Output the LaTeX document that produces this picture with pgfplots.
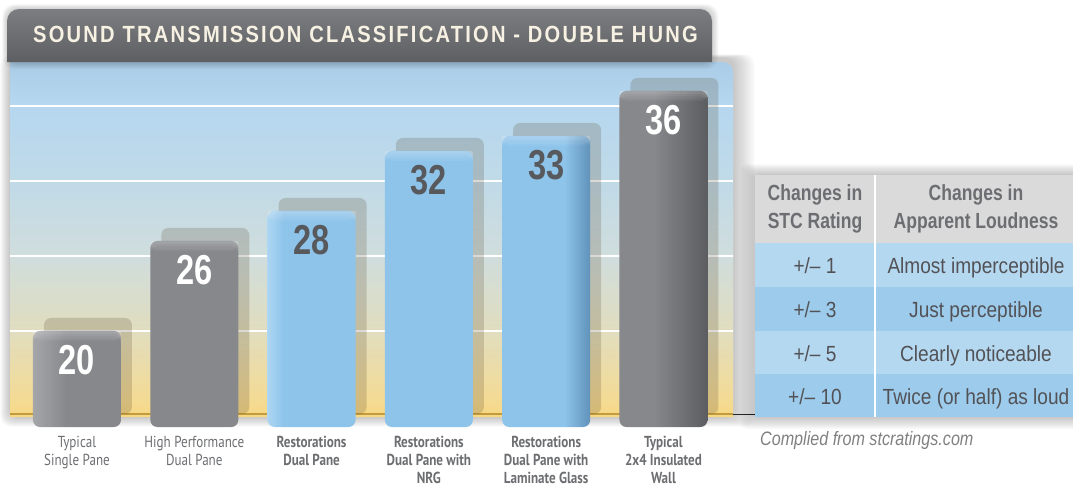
\documentclass[border=0pt]{standalone}
\usepackage{fontspec}
\setmainfont{Liberation Sans}
\newfontfamily\condfont[FakeStretch=0.8]{Liberation Sans}
\newfontfamily\titlefont[FakeStretch=0.86,LetterSpace=9.5]{Liberation Sans}
\newfontfamily\numfont[FakeStretch=0.78]{Liberation Sans}
\newfontfamily\bodyfont[FakeStretch=0.87]{Liberation Sans}
\newfontfamily\capfont[FakeStretch=0.83]{Liberation Sans}
\newfontfamily\labfont[FakeStretch=0.82]{PT Sans}
\usepackage{pgfplots}
\pgfplotsset{compat=1.18}

\definecolor{pY0}{RGB}{247,216,130}
\definecolor{pY05}{RGB}{244,219,148}
\definecolor{pY1}{RGB}{225,221,190}
\definecolor{pY2}{RGB}{208,221,220}
\definecolor{pY3}{RGB}{192,218,232}
\definecolor{pY4}{RGB}{181,215,239}
\definecolor{pY5}{RGB}{170,204,230}
\definecolor{g0}{RGB}{165,166,170}
\definecolor{g1}{RGB}{135,136,140}
\definecolor{g2}{RGB}{92,93,97}
\definecolor{b0}{RGB}{172,214,242}
\definecolor{b1}{RGB}{142,196,234}
\definecolor{b2}{RGB}{96,146,186}
\definecolor{shadowc}{RGB}{80,62,36}
\definecolor{titletop}{RGB}{124,125,128}
\definecolor{titlebot}{RGB}{94,95,98}
\definecolor{titletext}{RGB}{246,241,226}
\definecolor{headgray}{RGB}{218,218,219}
\definecolor{headtext}{RGB}{109,110,113}
\definecolor{rowA}{RGB}{181,216,241}
\definecolor{rowB}{RGB}{157,203,236}
\definecolor{bodytext}{RGB}{82,82,86}
\definecolor{capgray}{RGB}{128,128,130}
\definecolor{labgray}{RGB}{109,110,113}
\definecolor{numdark}{RGB}{88,89,92}
\definecolor{goldline}{RGB}{196,155,60}

\pgfdeclareverticalshading{panelshade}{100bp}{color(0bp)=(pY0); color(25bp)=(pY0); color(27.4bp)=(pY05); color(37bp)=(pY1); color(47.5bp)=(pY2); color(58.5bp)=(pY3); color(69bp)=(pY4); color(75bp)=(pY5); color(100bp)=(pY5)}
\pgfdeclarehorizontalshading{graybar}{100bp}{color(0bp)=(g0); color(25bp)=(g0); color(27.5bp)=(g1); color(71bp)=(g1); color(75bp)=(g2); color(100bp)=(g2)}
\pgfdeclarehorizontalshading{bluebar}{100bp}{color(0bp)=(b0); color(25bp)=(b0); color(27.5bp)=(b1); color(71bp)=(b1); color(75bp)=(b2); color(100bp)=(b2)}

% light bevel along the rounded top of each bar
\newcommand\bevelstrip[2]{%
  \begin{pgfscope}%
    \pgfsetfillcolor{white}%
    \pgfsetfillopacity{#2}%
    \pgfpathmoveto{\pgfpoint{-44bp}{-#1bp}}%
    \pgfpathlineto{\pgfpoint{-44bp}{-7bp}}%
    \pgfpatharc{180}{90}{7bp}%
    \pgfpathlineto{\pgfpoint{37bp}{0bp}}%
    \pgfpatharc{90}{0}{7bp}%
    \pgfpathlineto{\pgfpoint{44bp}{-#1bp}}%
    \pgfpathclose
    \pgfusepath{fill}%
  \end{pgfscope}%
}
\pgfdeclareplotmark{bevel}{%
  \bevelstrip{10}{0.05}\bevelstrip{8}{0.06}\bevelstrip{5.5}{0.07}\bevelstrip{3}{0.08}%
}

\pgfplotstableread{
x y
0 20
1 26
5 36
}\graydata
\pgfplotstableread{
x y
2 28
3 32
4 33
}\bluedata
\pgfplotstableread{
x y
0 20
1 26
2 28
3 32
4 33
5 36
}\alldata

\begin{document}
\begin{tikzpicture}
\useasboundingbox (0bp,-486bp) rectangle (1073bp,0bp);
\clip (0bp,-486bp) rectangle (1073bp,0bp);
\begin{scope}[x=1bp,y=-1bp]
% panel soft shadow
\foreach \i in {1,...,12} {
  \fill[black,opacity=0.018,rounded corners=10] ({10-\i*0.8},{58-\i*0.3}) rectangle ({733+\i*1.8},{417+\i*0.8});
}
% panel
\shade[shading=panelshade] (10,417) -- (10,62) -- (723,62) arc[start angle=270,end angle=360,radius=10] -- (733,417) -- cycle;
% baseline
\draw[goldline, line width=2bp] (10,413.5) -- (733,413.5);
\draw[black!85, line width=1bp] (733,414) -- (757,414);
% title bar shadow
\foreach \i in {1,...,8} {
  \fill[black,opacity=0.025,rounded corners=12] ({7-\i*0.6},{9-\i*0.6}) rectangle ({712+\i*0.8},{62+\i*0.9});
}
\shade[top color=titletop, bottom color=titlebot] (7,62) -- (7,21) arc[start angle=180,end angle=270,radius=12] -- (700,9) arc[start angle=270,end angle=360,radius=12] -- (712,62) -- cycle;
\node[anchor=base west, inner sep=0pt, text=titletext, font=\titlefont\bfseries\fontsize{23.5}{23.5}\selectfont] at (33,42) {SOUND TRANSMISSION CLASSIFICATION - DOUBLE HUNG};
\end{scope}

\begin{axis}[
  at={(10bp,-427bp)}, anchor=south west,
  scale only axis, width=723bp, height=365bp,
  xmin=-0.571, xmax=5.593, ymin=13.6, ymax=37.93,
  axis line style={draw=none}, tick style={draw=none},
  ytick={20,25,30,35}, yticklabels={}, ymajorgrids,
  grid style={white, line width=2.5bp},
  xtick={0,1,2,3,4,5},
  xticklabels={{Typical\\Single Pane},{High Performance\\Dual Pane},{\textbf{Restorations}\\\textbf{Dual Pane}},{\textbf{Restorations}\\\textbf{Dual Pane with}\\\textbf{NRG}},{\textbf{Restorations}\\\textbf{Dual Pane with}\\\textbf{Laminate Glass}},{\textbf{Typical}\\\textbf{2x4 Insulated}\\\textbf{Wall}}},
  xticklabel style={align=center, font=\labfont\fontsize{16}{18}\selectfont, text=labgray, inner sep=0pt, yshift=-5bp},
  ybar, bar width=88bp,
]
\addplot[bar shift=11bp, yshift=13bp, fill=shadowc, fill opacity=0.2, draw=none, rounded corners=7bp] table[x=x,y=y] {\alldata};
\addplot[bar shift=0bp, shade, shading=graybar, draw=none, rounded corners=7bp, mark=bevel,
  nodes near coords={\numfont\bfseries\fontsize{42}{42}\selectfont\pgfmathprintnumber[assume math mode=true]{\pgfplotspointmeta}},
  nodes near coords style={text=white, text opacity=1, fill opacity=1, opacity=1, anchor=north, inner sep=0pt, yshift=-14bp}] table[x=x,y=y] {\graydata};
\addplot[bar shift=0bp, shade, shading=bluebar, draw=none, rounded corners=7bp, mark=bevel,
  nodes near coords={\numfont\bfseries\fontsize{42}{42}\selectfont\pgfmathprintnumber[assume math mode=true]{\pgfplotspointmeta}},
  nodes near coords style={text=numdark, text opacity=1, fill opacity=1, opacity=1, anchor=north, inner sep=0pt, yshift=-14bp}] table[x=x,y=y] {\bluedata};
\end{axis}

\begin{scope}[x=1bp,y=-1bp]
% table shadow
\foreach \i in {1,...,12} {
  \fill[black,opacity=0.018,rounded corners=6] ({755-\i*1.2},{175-\i*0.9}) rectangle ({1080},{417+\i*1.0});
}
\fill[headgray] (755,175) rectangle (1073,243);
\fill[rowA] (755,243) rectangle (1073,287);
\fill[rowB] (755,287) rectangle (1073,331);
\fill[rowA] (755,331) rectangle (1073,374);
\fill[rowB] (755,374) rectangle (1073,417);
\draw[white, line width=2.5bp] (875,175) -- (875,417);
\node[align=center, text=headtext, font=\condfont\bfseries\fontsize{22}{28}\selectfont] at (815,209) {Changes in\\STC Rating};
\node[align=center, text=headtext, font=\condfont\bfseries\fontsize{22}{28}\selectfont] at (976,209) {Changes in\\Apparent Loudness};
\begin{scope}[every node/.style={text=bodytext, font=\bodyfont\fontsize{22}{22}\selectfont, anchor=base}]
\node at (815,273) {+/– 1};
\node at (976,273) {Almost imperceptible};
\node at (815,317) {+/– 3};
\node at (976,317) {Just perceptible};
\node at (815,361) {+/– 5};
\node at (976,361) {Clearly noticeable};
\node at (815,404) {+/– 10};
\node at (976,404) {Twice (or half) as loud};
\end{scope}
\node[anchor=base west, inner sep=0pt, text=capgray, font=\capfont\itshape\fontsize{19.5}{20}\selectfont] at (760,445) {Complied from stcratings.com};
\end{scope}
\end{tikzpicture}
\end{document}
